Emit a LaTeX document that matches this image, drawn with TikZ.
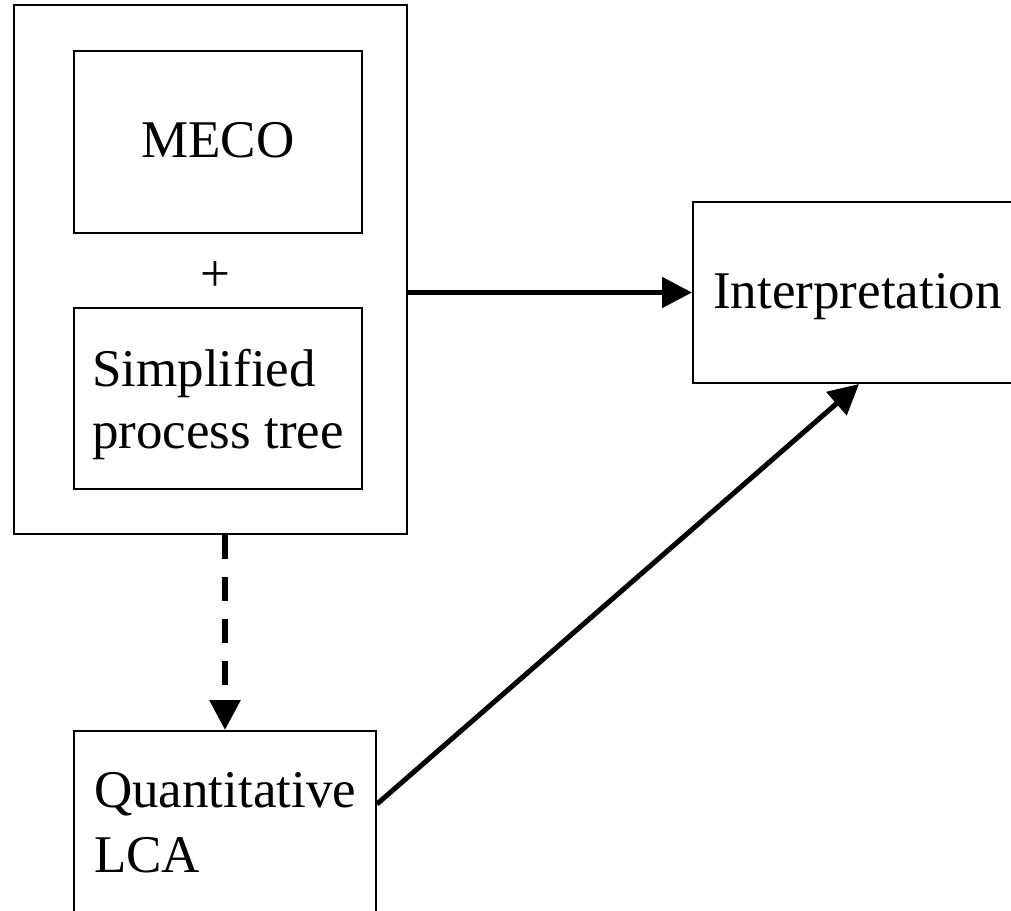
\documentclass[tikz,border=0pt]{standalone}
\usepackage{fontspec}
\setmainfont{Liberation Serif}
\usetikzlibrary{arrows.meta, positioning}

\begin{document}
\begin{tikzpicture}[
            x=0.5pt, y=-0.5pt,
            box/.style={draw, rectangle, line width=1pt, inner sep=0pt,
                font=\fontsize{26.5pt}{31pt}\selectfont},
            link/.style={line width=2.5pt, -{Triangle[length=15pt, width=15pt]}}
        ]
            \path[use as bounding box] (0,0) rectangle (1011,910);
            \clip (0,0) rectangle (1011,910);
            % Outer frame with its two parts
            \node[box] (frame) at (210.5, 269.5) [minimum width=196.5pt, minimum height=264.5pt] {};
            \node[box, text height=17.5pt, text depth=2pt] (meco) at (218, 142) [minimum width=144pt, minimum height=91pt] {MECO};
            \node[font=\fontsize{26.5pt}{31pt}\selectfont] (plus) at (215, 277) {+};
            \node[box, align=left, text height=49.8pt, text depth=0pt] (tree) at (218, 398.5) [minimum width=144pt, minimum height=90.5pt] {Simplified\\process tree};
            % Right and bottom boxes
            \node[box, text height=17.5pt, text depth=2pt] (interp) at (857.5, 292.5) [minimum width=164.5pt, minimum height=90.5pt] {Interpretation};
            \node[box, align=left, text height=26.5pt, text depth=0pt,
                font=\fontsize{26.5pt}{32.5pt}\selectfont] (lca) at (225, 845.5) [minimum width=151pt, minimum height=114.5pt] {Quantitative\\LCA};
            % Links
            \draw[link] (frame.east |- interp.west) -- (interp.west);
            \draw[link, line width=3pt, dash pattern=on 12pt off 9pt] (lca.north |- frame.south) -- (lca.north);
            \draw[link] ([yshift=-37pt]lca.north east) -- ([xshift=83.5pt]interp.south west);
        \end{tikzpicture}
\end{document}
